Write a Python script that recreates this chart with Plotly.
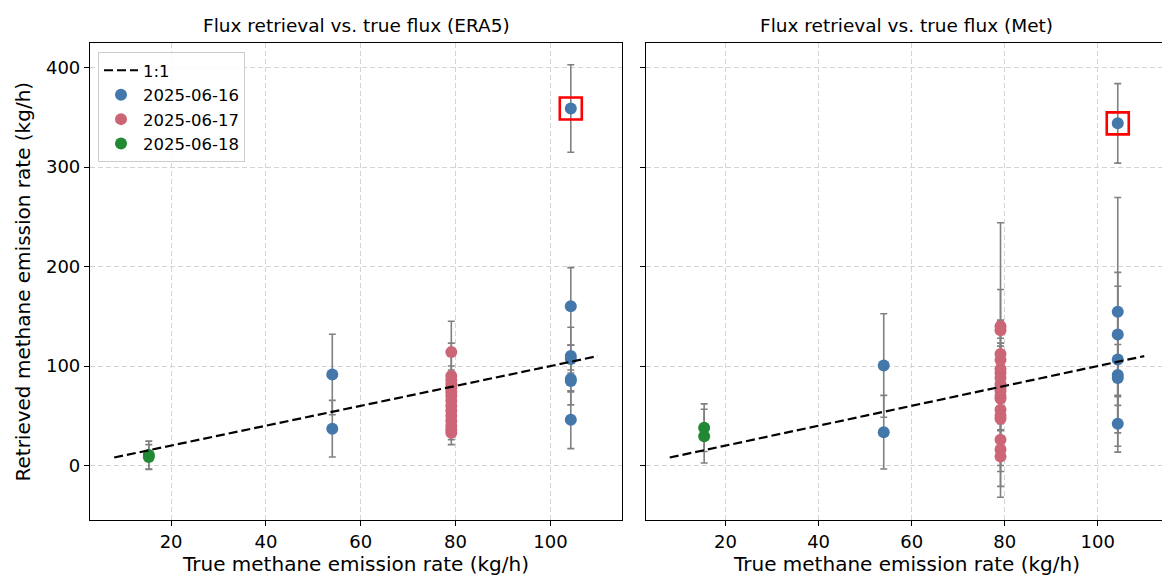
import plotly.graph_objects as go

# ---------------- data ----------------
line_x = [8, 110]

# ERA5 panel
era5_green_x = [15.3, 15.3]
era5_green_y = [10.5, 8.5]
era5_green_err = [14, 12.5]

era5_blue_x = [54, 54, 104.3, 104.3, 104.3, 104.3, 104.3, 104.3, 104.3]
era5_blue_y = [91.5, 37, 359, 160, 110, 107, 87, 85, 46]
era5_blue_err = [40.5, 28.5, 44, 39, 29, 14, 26, 11, 29]

era5_pink_x = [79.1] * 15
era5_pink_y = [114, 90, 86, 82, 78, 74, 70, 65, 60, 55, 50, 45, 40, 36, 33]
era5_pink_err = [31, 33, 10, 18, 12, 15, 8, 14, 10, 12, 9, 11, 8, 10, 12]

era5_outlier_x = [104.3]
era5_outlier_y = [359]

# Met panel
met_green_x = [15.4, 15.4]
met_green_y = [38, 29.5]
met_green_err = [24, 27]

met_blue_x = [54, 54, 104.3, 104.3, 104.3, 104.3, 104.3, 104.3, 104.3]
met_blue_y = [100.5, 33.5, 344, 154.5, 131.7, 106.5, 91, 88, 42]
met_blue_err = [52, 37, 40, 115, 62.5, 73.7, 30.6, 68.6, 28.6]

met_pink_x = [79.1] * 18
met_pink_y = [140, 136, 112, 106, 97, 93, 88, 82, 78, 75, 70, 67, 56, 50, 47, 26, 16, 9]
met_pink_err = [6, 8, 11, 138, 23, 12, 10, 14, 99, 9, 76, 12, 10, 8, 11, 9, 10, 9]

met_outlier_x = [104.3]
met_outlier_y = [344]

series_labels = ["2025-06-16", "2025-06-17", "2025-06-18"]
panel_titles = ["Flux retrieval vs. true flux (ERA5)", "Flux retrieval vs. true flux (Met)"]
x_title = "True methane emission rate (kg/h)"
y_title = "Retrieved methane emission rate (kg/h)"
x_ticks = [20, 40, 60, 80, 100]
y_ticks = [0, 100, 200, 300, 400]

# ---------------- style ----------------
BLUE = "#4477AA"
PINK = "#CC6677"
GREEN = "#228833"
ERRC = "#808080"
FONT = "DejaVu Sans"

fig = go.Figure()


def add_series(x, y, err, color, name, xa, ya, show):
    fig.add_trace(go.Scatter(
        x=x, y=y, mode="markers", name=name, showlegend=show,
        legendgroup=name,
        marker=dict(color=color, size=12, line=dict(width=0)),
        error_y=dict(type="data", array=err, visible=True, color=ERRC,
                     thickness=1.6, width=3.5),
        xaxis=xa, yaxis=ya,
    ))


panels = [
    ("x", "y",
     (era5_blue_x, era5_blue_y, era5_blue_err),
     (era5_pink_x, era5_pink_y, era5_pink_err),
     (era5_green_x, era5_green_y, era5_green_err),
     (era5_outlier_x, era5_outlier_y), True),
    ("x2", "y2",
     (met_blue_x, met_blue_y, met_blue_err),
     (met_pink_x, met_pink_y, met_pink_err),
     (met_green_x, met_green_y, met_green_err),
     (met_outlier_x, met_outlier_y), False),
]

for xa, ya, blue, pink, green, outl, show in panels:
    add_series(*blue, BLUE, series_labels[0], xa, ya, show)
    add_series(*pink, PINK, series_labels[1], xa, ya, show)
    add_series(*green, GREEN, series_labels[2], xa, ya, show)
    fig.add_trace(go.Scatter(
        x=line_x, y=line_x, mode="lines", name="1:1", showlegend=show,
        legendgroup="1:1", legendrank=1,
        line=dict(color="black", width=2.2, dash="9px,4px"),
        xaxis=xa, yaxis=ya,
    ))
    fig.add_trace(go.Scatter(
        x=outl[0], y=outl[1], mode="markers", showlegend=False,
        marker=dict(symbol="square-open", size=22, color="red",
                    line=dict(color="red", width=2.6)),
        xaxis=xa, yaxis=ya, hoverinfo="skip",
    ))

# legend ordering: 1:1 first
for tr in fig.data:
    if tr.name in series_labels:
        tr.legendrank = 10 + series_labels.index(tr.name)

# page body has an 8px margin -> compensate
W, H = 1162, 571
ml, mr, mt, mb = 82, 2, 35, 59
pw = W - ml - mr
ph = H - mt - mb
d1 = [0, 532 / pw]
d2 = [556 / pw, 1]

axis_common = dict(
    showline=True, mirror=True, linecolor="black", linewidth=1.2,
    ticks="outside", ticklen=5, tickwidth=1.2, tickcolor="black",
    showgrid=True, gridcolor="#d4d4d4", griddash="5px,3px", gridwidth=1,
    zeroline=False,
    tickfont=dict(family=FONT, size=18, color="black"),
)

xrange_ = [2.9, 115.1]
yrange_ = [-54.8, 424.8]
TITLE_FONT = dict(family=FONT, size=20, color="black")

fig.update_layout(
    width=W, height=H,
    margin=dict(l=ml, r=mr, t=mt, b=mb),
    plot_bgcolor="white", paper_bgcolor="white",
    font=dict(family=FONT, size=17, color="black"),
    xaxis=dict(domain=d1, range=xrange_, tickvals=x_ticks, anchor="y",
               title=dict(text=x_title, standoff=2, font=TITLE_FONT),
               **axis_common),
    xaxis2=dict(domain=d2, range=xrange_, tickvals=x_ticks, anchor="y2",
                title=dict(text=x_title, standoff=2, font=TITLE_FONT),
                **axis_common),
    yaxis=dict(range=yrange_, tickvals=y_ticks, anchor="x", **axis_common),
    yaxis2=dict(range=yrange_, tickvals=y_ticks, anchor="x2", matches="y",
                showticklabels=False, **axis_common),
    legend=dict(x=8 / pw, y=1 - 9 / ph, xanchor="left", yanchor="top",
                bgcolor="rgba(255,255,255,0.85)", bordercolor="#cccccc", borderwidth=1,
                font=dict(family=FONT, size=16.5), tracegroupgap=0, itemwidth=34),
    showlegend=True,
    annotations=[
        dict(text=panel_titles[0], x=(d1[0] + d1[1]) / 2, y=1, xref="paper", yref="paper",
             xanchor="center", yanchor="bottom", yshift=5, showarrow=False,
             font=dict(family=FONT, size=18.5)),
        dict(text=panel_titles[1], x=(d2[0] + d2[1]) / 2, y=1, xref="paper", yref="paper",
             xanchor="center", yanchor="bottom", yshift=5, showarrow=False,
             font=dict(family=FONT, size=18.5)),
        dict(text=y_title, textangle=-90, x=-(ml - 14) / pw, y=0.5,
             xref="paper", yref="paper", xanchor="center", yanchor="middle",
             showarrow=False, font=TITLE_FONT),
    ],
)

fig.write_html("out.html")
